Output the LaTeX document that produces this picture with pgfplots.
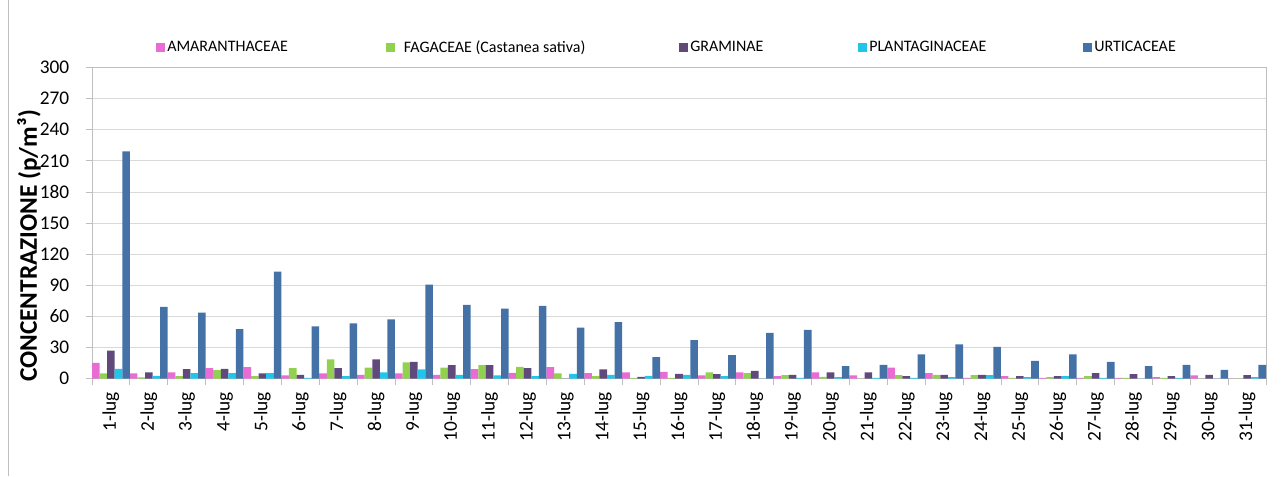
\documentclass[border=0pt]{standalone}
\usepackage{fontspec}
\setmainfont{Carlito}
\usepackage{pgfplots}
\pgfplotsset{compat=1.18}
\usepackage{pgfplotstable}
\definecolor{cAma}{HTML}{E96BD4}
\definecolor{cFag}{HTML}{92D050}
\definecolor{cGra}{HTML}{604A7B}
\definecolor{cPla}{HTML}{20C6EA}
\definecolor{cUrt}{HTML}{4472A7}
\definecolor{axgray}{HTML}{BFBFBF}
\definecolor{gridgray}{HTML}{D9D9D9}

\pgfplotstableread{
day ama fag gra pla urt
0  15   5    27   9.4  219
1  5    1    6    2.6  69
2  6    2.3  9    5.2  63.5
3  10   8    9.4  5.2  47.7
4  11   2.3  5    5.2  103
5  3    10   3.5  0.6  50.3
6  5    18.4 10   2.3  53.2
7  3.5  10.6 18.4 5.8  57
8  5    15.5 16   8.7  90.6
9  3.5  10.6 13   3.5  71
10 9    13   13   3    67.4
11 5.5  11.3 10   2.3  70
12 11   5    0    4.5  49
13 5.2  2.3  8.7  3.5  54.5
14 5.8  0.6  1.6  2.6  20.6
15 6.5  0.5  4.5  3.5  37
16 3    5.8  4.2  2.3  22.6
17 5.8  5.2  7.4  0    44
18 2.3  3.2  3.5  0.6  46.8
19 5.8  1.6  6    1.3  12
20 3    0    6    0.6  13.2
21 10.6 3.2  2.3  0.6  23.2
22 5.2  3.5  3.5  1.3  32.9
23 0.6  3.2  3.5  3.2  30.5
24 2.3  0.6  2.3  1.3  17
25 0.6  1.3  2.3  2.3  23.2
26 0.6  2.3  5.2  0.6  16
27 0.6  0.6  4.2  0    12
28 1.3  0.6  2.3  0.6  13.2
29 3    0    3.5  0    8.4
30 0    0    3.2  1.3  13.2
}\data

\begin{document}
\begin{tikzpicture}
\useasboundingbox (0,0) rectangle (966pt,357pt);
\draw[color=axgray] (6pt,0) -- (6pt,357pt);
\begin{axis}[
  at={(69pt,73.125pt)}, anchor=south west,
  width=880.5pt, height=233.25pt, scale only axis,
  ybar=0pt, bar width=5.68pt,
  xmin=-0.5, xmax=30.5, ymin=0, ymax=300,
  ytick={0,30,...,300},
  xtick={0,...,30},
  xticklabels={1-lug,2-lug,3-lug,4-lug,5-lug,6-lug,7-lug,8-lug,9-lug,10-lug,11-lug,12-lug,13-lug,14-lug,15-lug,16-lug,17-lug,18-lug,19-lug,20-lug,21-lug,22-lug,23-lug,24-lug,25-lug,26-lug,27-lug,28-lug,29-lug,30-lug,31-lug},
  minor xtick={-0.5,0.5,...,30.5},
  tick pos=left, tick align=outside,
  major tick length=4.5pt, minor tick length=4.5pt,
  tick style={draw=axgray, line width=0.6pt},
  major x tick style={draw=none},
  ymajorgrids, grid style={draw=gridgray, line width=0.6pt},
  axis line style={draw=axgray, line width=0.75pt},
  /pgf/number format/assume math mode=true,
  xticklabel style={font=\fontsize{14.5}{16}\selectfont, text=black, yshift=-2.25pt, rotate=90, anchor=east},
  yticklabel style={font=\fontsize{14.5}{16}\selectfont, text=black, xshift=-9pt},
  ylabel={CONCENTRAZIONE (p/m³)},
  ylabel style={font=\bfseries\fontsize{19}{22}\selectfont, at={(axis description cs:-0.0537,0.426)}, anchor=center},
  legend style={at={(axis description cs:0.0545,1.0645)}, anchor=west, draw=none, fill=none,
    legend columns=5, inner sep=0pt, nodes={inner sep=0pt, font=\fontsize{12}{14}\selectfont},
    /tikz/every even column/.append style={column sep=0pt},
    /tikz/every odd column/.append style={column sep=0pt}},
  legend image code/.code={\fill[#1] (0pt,-3.375pt) rectangle (6.75pt,3.375pt);},
]
\addplot[fill=cAma, draw=none] table[x=day,y=ama]{\data};
\addlegendentry{\makebox[165.75pt][l]{\hspace{1.5pt}AMARANTHACEAE}}
\addplot[fill=cFag, draw=none] table[x=day,y=fag]{\data};
\addlegendentry{\makebox[213pt][l]{\hspace{6.5pt}FAGACEAE (Castanea sativa)}}
\addplot[fill=cGra, draw=none] table[x=day,y=gra]{\data};
\addlegendentry{\makebox[127.5pt][l]{\hspace{1.5pt}GRAMINAE}}
\addplot[fill=cPla, draw=none] table[x=day,y=pla]{\data};
\addlegendentry{\makebox[162pt][l]{\hspace{1.5pt}PLANTAGINACEAE}}
\addplot[fill=cUrt, draw=none] table[x=day,y=urt]{\data};
\addlegendentry{\hspace{1.5pt}URTICACEAE}
\end{axis}
\end{tikzpicture}
\end{document}
